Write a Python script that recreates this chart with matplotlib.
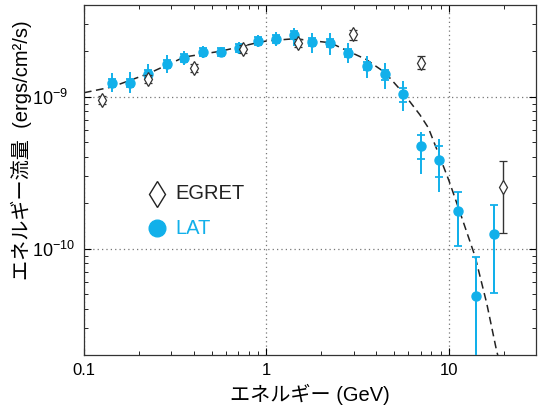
import numpy as np
import matplotlib
matplotlib.use("Agg")
import matplotlib.pyplot as plt

plt.rcParams['font.family'] = ['Liberation Sans', 'Noto Sans CJK JP', 'DejaVu Sans']
plt.rcParams['mathtext.fontset'] = 'custom'
plt.rcParams['mathtext.rm'] = 'Liberation Sans'
plt.rcParams['mathtext.it'] = 'Liberation Sans:italic'

# ---- データ ----
# LAT
lat_e = [0.142, 0.179, 0.225, 0.284, 0.355, 0.447, 0.564, 0.709, 0.895, 1.13, 1.42,
         1.77, 2.23, 2.81, 3.54, 4.46, 5.62, 7.05, 8.85, 11.2, 14.0, 17.7]
lat_f = [1.235e-9, 1.235e-9, 1.415e-9, 1.63e-9, 1.80e-9, 1.96e-9, 1.96e-9, 2.09e-9,
         2.32e-9, 2.38e-9, 2.53e-9, 2.28e-9, 2.24e-9, 1.94e-9, 1.59e-9, 1.415e-9,
         1.04e-9, 4.75e-10, 3.83e-10, 1.78e-10, 4.89e-11, 1.25e-10]
# 全誤差 (上端/下端)
lat_hi = [1.425e-9, 1.45e-9, 1.645e-9, 1.87e-9, 2.00e-9, 2.15e-9, 2.11e-9, 2.29e-9,
          2.54e-9, 2.64e-9, 2.83e-9, 2.63e-9, 2.63e-9, 2.26e-9, 1.85e-9, 1.67e-9,
          1.267e-9, 5.81e-10, 5.26e-10, 2.37e-10, 8.81e-11, 1.94e-10]
lat_lo = [1.07e-9, 1.05e-9, 1.217e-9, 1.42e-9, 1.62e-9, 1.79e-9, 1.82e-9, 1.91e-9,
          2.12e-9, 2.14e-9, 2.15e-9, 1.94e-9, 1.88e-9, 1.67e-9, 1.33e-9, 1.118e-9,
          8.06e-10, 3.10e-10, 2.35e-10, 1.035e-10, 1.0e-11, 5.15e-11]
# 統計誤差 (キャップ位置)
stat_hi = [1.31e-9, 1.31e-9, 1.50e-9, 1.73e-9, 1.91e-9, 2.08e-9, 2.08e-9, 2.22e-9,
           2.46e-9, 2.53e-9, 2.69e-9, 2.42e-9, 2.38e-9, 2.06e-9, 1.69e-9, 1.49e-9,
           1.146e-9, 5.61e-10, 4.70e-10, 2.37e-10, 8.81e-11, 1.94e-10]
stat_lo = [1.163e-9, 1.163e-9, 1.33e-9, 1.535e-9, 1.695e-9, 1.845e-9, 1.845e-9, 1.97e-9,
           2.18e-9, 2.24e-9, 2.38e-9, 2.15e-9, 2.11e-9, 1.83e-9, 1.50e-9, 1.28e-9,
           9.27e-10, 3.89e-10, 2.95e-10, 1.035e-10, 1.0e-11, 5.15e-11]

# EGRET
egret_e = [0.126, 0.225, 0.401, 0.746, 1.49, 2.99, 7.0, 19.9]
egret_f = [9.47e-10, 1.31e-9, 1.53e-9, 2.06e-9, 2.26e-9, 2.56e-9, 1.67e-9, 2.53e-10]
egret_hi = [1.005e-9, 1.39e-9, 1.625e-9, 2.19e-9, 2.40e-9, 2.76e-9, 1.84e-9, 3.79e-10]
egret_lo = [8.92e-10, 1.234e-9, 1.44e-9, 1.94e-9, 2.13e-9, 2.37e-9, 1.51e-9, 1.27e-10]

# フィット曲線 (読み取り点)
fit_e = [0.1, 0.142, 0.225, 0.355, 0.564, 0.89, 1.0, 1.42, 2.23, 2.8, 3.5, 4.46,
         5.6, 6.93, 7.71, 8.85, 10.0, 11.5, 13.9, 16.1, 18.2, 18.7]
fit_f = [1.06e-9, 1.156e-9, 1.415e-9, 1.82e-9, 1.99e-9, 2.26e-9, 2.32e-9, 2.40e-9,
         2.26e-9, 1.99e-9, 1.76e-9, 1.44e-9, 1.06e-9, 7.59e-10, 6.23e-10, 4.09e-10,
         2.80e-10, 1.73e-10, 8.90e-11, 4.38e-11, 2.16e-11, 1.9e-11]

lat_color = '#12b0ea'
egret_color = '#333333'

fig = plt.figure(figsize=(5.41, 4.09), dpi=100)
ax = fig.add_axes([0.1553, 0.132, 0.8355, 0.8558])

lat_f = np.array(lat_f)
egret_f = np.array(egret_f)

ax.plot(fit_e, fit_f, ls=(0, (5, 3)), color='#222222', lw=1.1, zorder=2)

# LAT 全誤差 (キャップなし)
ax.errorbar(lat_e, lat_f, yerr=[lat_f - np.array(lat_lo), np.array(lat_hi) - lat_f],
            fmt='none', ecolor=lat_color, elinewidth=1.4, capsize=0, zorder=3)
# LAT 統計誤差 (キャップ付き)
ax.errorbar(lat_e, lat_f, yerr=[lat_f - np.array(stat_lo), np.array(stat_hi) - lat_f],
            fmt='o', color=lat_color, ms=6.5, ecolor=lat_color, elinewidth=1.4,
            capsize=3.2, capthick=1.3, zorder=4)

ax.errorbar(egret_e, egret_f, yerr=[egret_f - np.array(egret_lo), np.array(egret_hi) - egret_f],
            fmt='d', ms=7, mfc='white', mec=egret_color, mew=0.9, ecolor=egret_color,
            elinewidth=1.0, capsize=3, capthick=1.0, zorder=5)

ax.set_xscale('log')
ax.set_yscale('log')
ax.set_xlim(0.1, 30)
ax.set_ylim(2e-11, 4e-9)

ax.set_xticks([0.1, 1, 10])
ax.set_xticklabels(['0.1', '1', '10'])
ax.set_yticks([1e-10, 1e-9])
ax.set_yticklabels([r'$10^{-10}$', r'$10^{-9}$'])

ax.tick_params(which='both', direction='in', top=True, right=True)
ax.tick_params(axis='x', which='major', labelsize=12, pad=6)
ax.tick_params(axis='y', which='major', labelsize=13, pad=37.5)
for lab in ax.get_yticklabels():
    lab.set_horizontalalignment('left')
ax.tick_params(which='major', length=5, width=0.8)
ax.tick_params(which='minor', length=3, width=0.6)
ax.grid(True, which='major', ls=(0, (1, 2.5)), color='#777777', lw=0.9)
for s in ax.spines.values():
    s.set_linewidth(0.9)
    s.set_color('#333333')

ax.set_xlabel('エネルギー (GeV)', fontsize=14.5, labelpad=4)
ax.set_ylabel('エネルギー流量  (ergs/cm²/s)', fontsize=14.5)
ax.yaxis.set_label_coords(-0.115, 0.585)

# 凡例
ax.plot([0.251], [2.30e-10], marker='d', ms=13, mfc='white', mec='#222222', mew=1.0, ls='none')
ax.text(0.315, 2.30e-10, 'EGRET', fontsize=14.5, color='#222222', va='center')
ax.plot([0.251], [1.36e-10], marker='o', ms=12, color=lat_color, ls='none')
ax.text(0.315, 1.36e-10, 'LAT', fontsize=14.5, color=lat_color, va='center')

fig.savefig('out.png', dpi=100)
